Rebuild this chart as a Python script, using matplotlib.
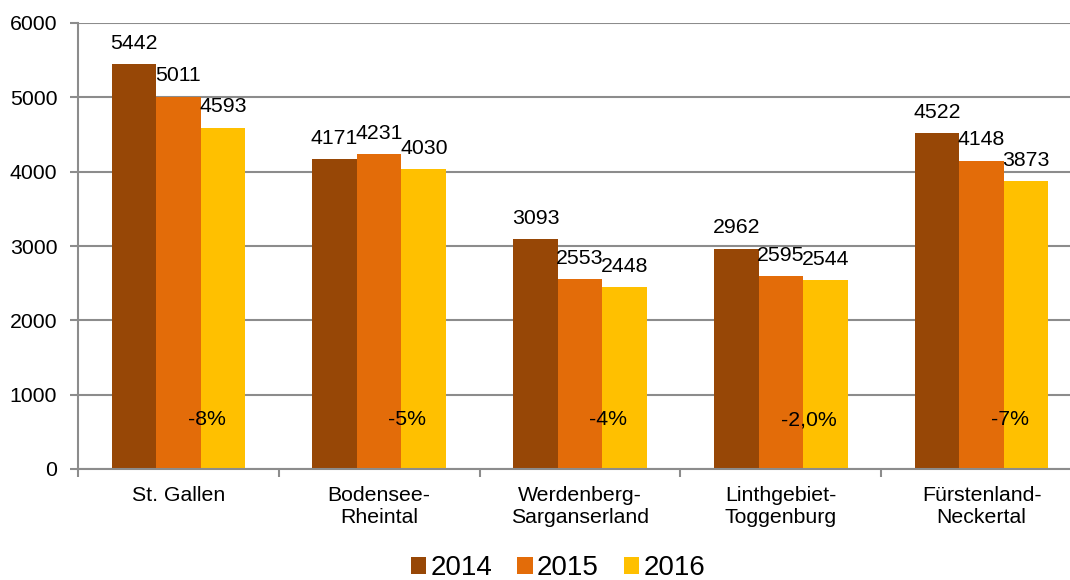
import matplotlib.pyplot as plt
import numpy as np

plt.rcParams['font.family'] = ['Liberation Sans', 'DejaVu Sans']

regions = ['St. Gallen', 'Bodensee-\nRheintal', 'Werdenberg-\nSarganserland',
           'Linthgebiet-\nToggenburg', 'Fürstenland-\nNeckertal']
years = ['2014', '2015', '2016']
v2014 = [5442, 4171, 3093, 2962, 4522]
v2015 = [5011, 4231, 2553, 2595, 4148]
v2016 = [4593, 4030, 2448, 2544, 3873]
changes = ['-8%', '-5%', '-4%', '-2,0%', '-7%']
colors = ['#974706', '#E36C09', '#FFC000']

GRID = '#8c8c8c'
FS = 15.3

fig = plt.figure(figsize=(10.7, 5.8), dpi=100)
# axes run a bit past the right edge, like in the original export
ax = fig.add_axes([78 / 1070, 111 / 580, 1004 / 1070, 446 / 580])

x = np.arange(len(regions))
w = 0.222
for i, (vals, col) in enumerate(zip([v2014, v2015, v2016], colors)):
    pos = x + (i - 1) * w
    ax.bar(pos, vals, width=w, color=col, label=years[i], zorder=3)
    for px, v in zip(pos, vals):
        ax.annotate(str(v), (px, v), xytext=(0, 15), textcoords='offset points',
                    ha='center', va='center', fontsize=FS, zorder=4)

for xi, c in zip(x, changes):
    ax.text(xi + 0.14, 660, c, ha='center', va='center', fontsize=FS, zorder=4)

ax.set_xlim(-0.5, len(regions) - 0.5)
ax.set_ylim(0, 6000)
ax.set_yticks(range(0, 6001, 1000))
ax.yaxis.grid(True, color=GRID, linewidth=1.5, zorder=0)

ax.set_xticks(x)
ax.set_xticklabels(regions, fontsize=FS)
ax.set_xticks(np.arange(-0.5, len(regions), 1), minor=True)
ax.tick_params(axis='x', which='major', length=0, pad=12)
ax.tick_params(axis='x', which='minor', length=6, width=1.5, color=GRID)
ax.tick_params(axis='y', length=6, width=1.5, color=GRID, labelsize=FS, pad=9)

for s in ['top', 'right']:
    ax.spines[s].set_visible(False)
for s in ['left', 'bottom']:
    ax.spines[s].set_color(GRID)
    ax.spines[s].set_linewidth(1.5)
    ax.spines[s].set_zorder(5)

fig.legend(loc='center', bbox_to_anchor=(558 / 1070, 12 / 580), ncol=3, frameon=False,
           fontsize=20, handlelength=0.55, handleheight=0.55, handletextpad=0.15,
           columnspacing=0.9)

fig.savefig('out.png', dpi=100)
